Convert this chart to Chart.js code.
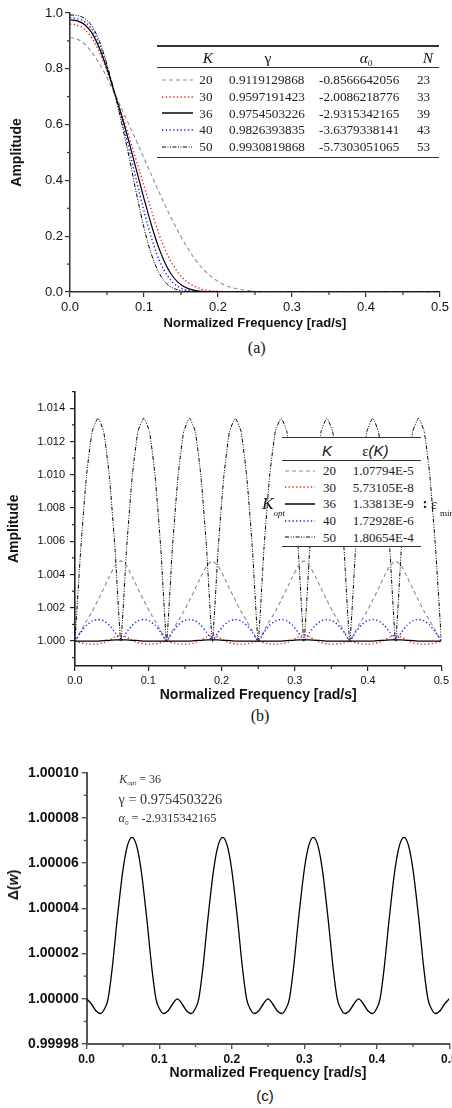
<!DOCTYPE html>
<html><head><meta charset="utf-8">
<script src="https://cdn.jsdelivr.net/npm/chart.js@4.4.1/dist/chart.umd.min.js"></script>
<style>
html,body{margin:0;padding:0;background:#fff;overflow:hidden;}
body{width:452px;height:1108px;position:relative;}
canvas{position:absolute;left:0;display:block;}
.abs{position:absolute;white-space:nowrap;line-height:1;color:#111;}
.rule{position:absolute;background:#333;}
</style></head><body>
<canvas id="ca" width="452" height="331" style="top:0px"></canvas>
<canvas id="cb" width="452" height="324" style="top:380px"></canvas>
<canvas id="cc" width="480" height="342" style="top:740px"></canvas>
<script>
// ---------------- DATA ----------------
// Panel (a): amplitude response
const freqA = [0,0.01,0.02,0.03,0.04,0.05,0.06,0.07,0.08,0.09,0.10,0.11,0.12,0.13,0.14,0.15,0.16,0.17,0.18,0.19,0.20,0.21,0.22,0.23,0.24,0.25,0.26,0.27,0.28,0.29,0.30,0.40,0.50];
const ampK20 = [0.912,0.906,0.888,0.858,0.818,0.768,0.712,0.655,0.598,0.540,0.480,0.420,0.360,0.302,0.248,0.198,0.153,0.114,0.082,0.057,0.038,0.024,0.015,0.009,0.005,0.0027,0.0013,0.0006,0.0002,0.0001,0,0,0];
const ampK30 = [0.960,0.956,0.941,0.908,0.858,0.792,0.716,0.638,0.555,0.468,0.380,0.293,0.210,0.143,0.093,0.057,0.033,0.018,0.009,0.0045,0.002,0.0009,0.0004,0.0001,0,0,0,0,0,0,0,0,0];
const ampK36 = [0.975,0.972,0.958,0.927,0.872,0.800,0.716,0.630,0.535,0.435,0.335,0.240,0.158,0.095,0.052,0.026,0.012,0.005,0.002,0.0008,0.0003,0,0,0,0,0,0,0,0,0,0,0,0];
const ampK40 = [0.983,0.980,0.968,0.940,0.885,0.808,0.716,0.617,0.510,0.397,0.290,0.195,0.118,0.065,0.032,0.014,0.006,0.0023,0.0008,0.0003,0,0,0,0,0,0,0,0,0,0,0,0,0];
const ampK50 = [0.993,0.991,0.980,0.952,0.897,0.815,0.716,0.603,0.482,0.350,0.230,0.135,0.070,0.032,0.013,0.005,0.0017,0.0005,0.0001,0,0,0,0,0,0,0,0,0,0,0,0,0,0];

// Panel (b): passband ripple
const freqB = [0,0.0078,0.0156,0.0234,0.0313,0.0391,0.0469,0.0547,0.0625,0.0703,0.0781,0.0859,0.0938,0.1016,0.1094,0.1172,
0.125,0.1328,0.1406,0.1484,0.1563,0.1641,0.1719,0.1797,0.1875,0.1953,0.2031,0.2109,0.2188,0.2266,0.2344,0.2422,
0.25,0.2578,0.2656,0.2734,0.2813,0.2891,0.2969,0.3047,0.3125,0.3203,0.3281,0.3359,0.3438,0.3516,0.3594,0.3672,
0.375,0.3828,0.3906,0.3984,0.4063,0.4141,0.4219,0.4297,0.4375,0.4453,0.4531,0.4609,0.4688,0.4766,0.4844,0.4922,0.5];
const rippleK20 = [1.00000,1.00060,1.00120,1.00178,1.00245,1.00315,1.00388,1.00452,1.00482,1.00452,1.00388,1.00315,1.00245,1.00178,1.00120,1.00060,
1.00000,1.00060,1.00120,1.00178,1.00245,1.00315,1.00388,1.00452,1.00482,1.00452,1.00388,1.00315,1.00245,1.00178,1.00120,1.00060,
1.00000,1.00060,1.00120,1.00178,1.00245,1.00315,1.00388,1.00452,1.00482,1.00452,1.00388,1.00315,1.00245,1.00178,1.00120,1.00060,
1.00000,1.00060,1.00120,1.00178,1.00245,1.00315,1.00388,1.00452,1.00482,1.00452,1.00388,1.00315,1.00245,1.00178,1.00120,1.00060,1.00000];
const rippleK30 = [1.00000,0.99990,0.99983,0.99981,0.99983,0.99990,1.00005,1.00025,1.00035,1.00025,1.00005,0.99990,0.99983,0.99981,0.99983,0.99990,
1.00000,0.99990,0.99983,0.99981,0.99983,0.99990,1.00005,1.00025,1.00035,1.00025,1.00005,0.99990,0.99983,0.99981,0.99983,0.99990,
1.00000,0.99990,0.99983,0.99981,0.99983,0.99990,1.00005,1.00025,1.00035,1.00025,1.00005,0.99990,0.99983,0.99981,0.99983,0.99990,
1.00000,0.99990,0.99983,0.99981,0.99983,0.99990,1.00005,1.00025,1.00035,1.00025,1.00005,0.99990,0.99983,0.99981,0.99983,0.99990,1.00000];
const rippleK40 = [1.00000,1.00052,1.00095,1.00122,1.00130,1.00122,1.00095,1.00052,1.00000,1.00052,1.00095,1.00122,1.00130,1.00122,1.00095,1.00052,
1.00000,1.00052,1.00095,1.00122,1.00130,1.00122,1.00095,1.00052,1.00000,1.00052,1.00095,1.00122,1.00130,1.00122,1.00095,1.00052,
1.00000,1.00052,1.00095,1.00122,1.00130,1.00122,1.00095,1.00052,1.00000,1.00052,1.00095,1.00122,1.00130,1.00122,1.00095,1.00052,
1.00000,1.00052,1.00095,1.00122,1.00130,1.00122,1.00095,1.00052,1.00000,1.00052,1.00095,1.00122,1.00130,1.00122,1.00095,1.00052,1.00000];
const rippleK50 = [1.0000,1.0055,1.0099,1.0126,1.0134,1.0126,1.0099,1.0055,1.0000,1.0055,1.0099,1.0126,1.0134,1.0126,1.0099,1.0055,
1.0000,1.0055,1.0099,1.0126,1.0134,1.0126,1.0099,1.0055,1.0000,1.0055,1.0099,1.0126,1.0134,1.0126,1.0099,1.0055,
1.0000,1.0055,1.0099,1.0126,1.0134,1.0126,1.0099,1.0055,1.0000,1.0055,1.0099,1.0126,1.0134,1.0126,1.0099,1.0055,
1.0000,1.0055,1.0099,1.0126,1.0134,1.0126,1.0099,1.0055,1.0000,1.0055,1.0099,1.0126,1.0134,1.0126,1.0099,1.0055,1.0000];

// Panel (c) and K=36 ripple of panel (b)
const freqC = [0,0.0065,0.013,0.019,0.0245,0.0295,0.035,0.042,0.05,0.056,0.0625,0.069,0.075,0.083,0.09,0.0955,0.1005,0.106,0.112,0.1185,
0.125,0.1315,0.138,0.144,0.1495,0.1545,0.16,0.167,0.175,0.181,0.1875,0.194,0.2,0.208,0.215,0.2205,0.2255,0.231,0.237,0.2435,
0.25,0.2565,0.263,0.269,0.2745,0.2795,0.285,0.292,0.3,0.306,0.3125,0.319,0.325,0.333,0.34,0.3455,0.3505,0.356,0.362,0.3685,
0.375,0.3815,0.388,0.394,0.3995,0.4045,0.41,0.417,0.425,0.431,0.4375,0.444,0.45,0.458,0.465,0.4705,0.4755,0.481,0.487,0.4935,0.5];
const deltaK36 = [1.0000000,0.9999977,0.9999946,0.9999935,0.9999955,1.0000000,1.0000130,1.0000350,1.0000570,1.0000675,1.0000714,1.0000675,1.0000570,1.0000350,1.0000130,1.0000000,0.9999955,0.9999935,0.9999946,0.9999977,
1.0000000,0.9999977,0.9999946,0.9999935,0.9999955,1.0000000,1.0000130,1.0000350,1.0000570,1.0000675,1.0000714,1.0000675,1.0000570,1.0000350,1.0000130,1.0000000,0.9999955,0.9999935,0.9999946,0.9999977,
1.0000000,0.9999977,0.9999946,0.9999935,0.9999955,1.0000000,1.0000130,1.0000350,1.0000570,1.0000675,1.0000714,1.0000675,1.0000570,1.0000350,1.0000130,1.0000000,0.9999955,0.9999935,0.9999946,0.9999977,
1.0000000,0.9999977,0.9999946,0.9999935,0.9999955,1.0000000,1.0000130,1.0000350,1.0000570,1.0000675,1.0000714,1.0000675,1.0000570,1.0000350,1.0000130,1.0000000,0.9999955,0.9999935,0.9999946,0.9999977,1.0000000];

// Legend tables
const legendK = [20,30,36,40,50];
const gammaText = ['0.9119129868','0.9597191423','0.9754503226','0.9826393835','0.9930819868'];
const alphaText = ['-0.8566642056','-2.0086218776','-2.9315342165','-3.6379338141','-5.7303051065'];
const lengthN = [23,33,39,43,53];
const epsText = ['1.07794E-5','5.73105E-8','1.33813E-9','1.72928E-6','1.80654E-4'];

// Ticks
const xTicks = [0,0.1,0.2,0.3,0.4,0.5];
const xTickLabels = ['0.0','0.1','0.2','0.3','0.4','0.5'];
const xMinor = [0.05,0.15,0.25,0.35,0.45];
const yTicksA = [0,0.2,0.4,0.6,0.8,1.0];
const yTickLabelsA = ['0.0','0.2','0.4','0.6','0.8','1.0'];
const yMinorA = [0.1,0.3,0.5,0.7,0.9];
const yTicksB = [1.000,1.002,1.004,1.006,1.008,1.010,1.012,1.014];
const yTickLabelsB = ['1.000','1.002','1.004','1.006','1.008','1.010','1.012','1.014'];
const yMinorB = [0.999,1.001,1.003,1.005,1.007,1.009,1.011,1.013,1.015];
const yTicksC = [0.99998,1.00000,1.00002,1.00004,1.00006,1.00008,1.00010];
const yTickLabelsC = ['0.99998','1.00000','1.00002','1.00004','1.00006','1.00008','1.00010'];
const yMinorC = [0.99999,1.00001,1.00003,1.00005,1.00007,1.00009];

// ---------------- STYLE ----------------
const SANS = "'Liberation Sans', Arial, sans-serif";
const SERIF = "'Liberation Serif', 'Times New Roman', serif";
Chart.defaults.font.family = SANS;
Chart.defaults.color = '#111';
const sty = {
  20:{color:'#8c8c8c', width:1.1, dash:[4,3]},
  30:{color:'#ff1a1a', width:1.4, dash:[1.3,2.4]},
  36:{color:'#000000', width:1.2, dash:[]},
  40:{color:'#1a1aff', width:1.4, dash:[1.3,2.4]},
  50:{color:'#000000', width:1.0, dash:[4,1.5,1,1.5,1,1.5]}
};

const minorTicks = {
  id:'minorTicks',
  afterDraw(chart, args, o){
    if(!o || !o.x) return;
    const ctx = chart.ctx; ctx.save();
    ctx.strokeStyle = o.color; ctx.lineWidth = o.width;
    const sx = chart.scales.x, sy = chart.scales.y;
    o.x.forEach(v=>{ const p = sx.getPixelForValue(v); ctx.beginPath(); ctx.moveTo(p, sx.top); ctx.lineTo(p, sx.top+o.len); ctx.stroke(); });
    o.y.forEach(v=>{ const p = sy.getPixelForValue(v); ctx.beginPath(); ctx.moveTo(sy.right, p); ctx.lineTo(sy.right-o.len, p); ctx.stroke(); });
    ctx.restore();
  }
};
Chart.register(minorTicks);

function axis(o){
  return {
    type:'linear', min:o.min, max:o.max,
    afterBuildTicks: s => { s.ticks = o.ticks.map(v=>({value:v})); },
    afterFit: s => { if(o.w!=null) s.width = o.w; if(o.h!=null) s.height = o.h; },
    ticks:{autoSkip:false, maxRotation:0, minRotation:0, padding:o.pad, font:o.font, color:'#111', callback:(v,i)=>o.labels[i]},
    grid:{display:true, drawOnChartArea:false, drawTicks:true, tickLength:5, color:o.axisColor, lineWidth:o.tickWidth||1.2},
    border:{display:true, color:o.axisColor, width:o.axisWidth},
    title:{display:!!o.title, text:o.title, font:o.titleFont, padding:o.titlePad, color:'#111'}
  };
}
function ds(xs, ys, st, mode){
  return {data:xs.map((x,i)=>({x:x, y:ys[i]})), borderColor:st.color, borderWidth:st.width, borderDash:st.dash,
    pointRadius:0, fill:false, tension: mode==='monotone'?0:0.15, cubicInterpolationMode: mode||'default', borderCapStyle:'butt'};
}
function base(pad, minor){
  return {responsive:false, animation:false, devicePixelRatio:1, events:[],
    layout:{padding:pad},
    plugins:{legend:{display:false}, tooltip:{enabled:false}, minorTicks:minor}};
}

// ---- Chart (a)
new Chart(document.getElementById('ca'), {
  type:'line',
  data:{datasets:[
    ds(freqA, ampK36, sty[36], 'monotone'),
    ds(freqA, ampK50, sty[50], 'monotone'),
    ds(freqA, ampK40, sty[40], 'monotone'),
    ds(freqA, ampK30, sty[30], 'monotone'),
    ds(freqA, ampK20, sty[20], 'monotone')
  ]},
  options:Object.assign(base({left:0,top:13,right:10,bottom:0},{x:xMinor,y:yMinorA,len:3,color:'#333',width:1.2}),{
    scales:{
      x:axis({min:0,max:0.5,ticks:xTicks,labels:xTickLabels,pad:3,font:{size:13},axisColor:'#333',axisWidth:1.5,h:39,
        title:'Normalized Frequency [rad/s]',titleFont:{size:13,weight:'bold'},titlePad:{top:0,bottom:0}}),
      y:axis({min:0,max:1,ticks:yTicksA,labels:yTickLabelsA,pad:2,font:{size:13},axisColor:'#333',axisWidth:1.5,w:70,
        title:'Amplitude',titleFont:{size:14,weight:'bold'},titlePad:{top:8.3,bottom:0}})
    }})
});

// ---- Chart (b)
new Chart(document.getElementById('cb'), {
  type:'line',
  data:{datasets:[
    ds(freqC, deltaK36, sty[36], 'monotone'),
    ds(freqB, rippleK30, sty[30]),
    ds(freqB, rippleK40, sty[40]),
    ds(freqB, rippleK20, sty[20]),
    ds(freqB, rippleK50, sty[50])
  ]},
  options:Object.assign(base({left:0,top:10.7,right:10,bottom:0},{x:xMinor,y:yMinorB,len:3,color:'#222',width:1.2}),{
    scales:{
      x:axis({min:0,max:0.5,ticks:xTicks,labels:xTickLabels,pad:3,font:{size:11},axisColor:'#222',axisWidth:1.6,h:38,
        title:'Normalized Frequency [rad/s]',titleFont:{size:14,weight:'bold'},titlePad:{top:0,bottom:0}}),
      y:axis({min:0.9985,max:1.015,ticks:yTicksB,labels:yTickLabelsB,pad:5,font:{size:11},axisColor:'#222',axisWidth:1.6,w:75,
        title:'Amplitude',titleFont:{size:14,weight:'bold'},titlePad:{top:5.6,bottom:0}})
    }})
});

// ---- Chart (c)
new Chart(document.getElementById('cc'), {
  type:'line',
  data:{datasets:[ ds(freqC, deltaK36, {color:'#000', width:1.3, dash:[]}, 'monotone') ]},
  options:Object.assign(base({left:0,top:32.7,right:30.7,bottom:0},{x:xMinor,y:yMinorC,len:3,color:'#555',width:1.4}),{
    scales:{
      x:axis({min:0,max:0.5,ticks:xTicks,labels:xTickLabels,pad:3,font:{size:12,weight:'bold'},axisColor:'#555',axisWidth:2,tickWidth:1.4,h:38,
        title:'Normalized Frequency [rad/s]',titleFont:{size:14,weight:'bold'},titlePad:{top:0,bottom:0}}),
      y:axis({min:0.99998,max:1.0001,ticks:yTicksC,labels:yTickLabelsC,pad:3,font:{size:14,weight:'bold'},axisColor:'#555',axisWidth:2,tickWidth:1.4,w:86.7,
        title:'',titleFont:{size:14,weight:'bold'},titlePad:{top:0,bottom:0}})
    }})
});

// ---------------- HTML TEXT / TABLES ----------------
function T(html, x, baseline, size, o){
  o = o || {};
  const d = document.createElement('div');
  d.className = 'abs';
  d.innerHTML = html;
  d.style.fontSize = size + 'px';
  d.style.fontFamily = o.family || SERIF;
  if(o.weight) d.style.fontWeight = o.weight;
  if(o.italic) d.style.fontStyle = 'italic';
  if(o.color) d.style.color = o.color;
  d.style.left = x + 'px';
  d.style.top = (baseline - 0.84*size) + 'px';
  if(o.align==='right') d.style.transform = 'translateX(-100%)';
  if(o.align==='center') d.style.transform = 'translateX(-50%)';
  document.body.appendChild(d);
  return d;
}
function R(x, y, w, h, bg){
  const d = document.createElement('div');
  d.className = 'rule';
  d.style.left = x+'px'; d.style.top = y+'px'; d.style.width = w+'px'; d.style.height = h+'px';
  if(bg) d.style.background = bg;
  document.body.appendChild(d);
  return d;
}
function sample(x, yc, w, st){
  const s = 'http://www.w3.org/2000/svg';
  const svg = document.createElementNS(s,'svg');
  svg.setAttribute('width', w); svg.setAttribute('height', 6);
  svg.style.position = 'absolute'; svg.style.left = x+'px'; svg.style.top = (yc-3)+'px';
  const ln = document.createElementNS(s,'line');
  ln.setAttribute('x1',0); ln.setAttribute('x2',w); ln.setAttribute('y1',3); ln.setAttribute('y2',3);
  ln.setAttribute('stroke', st.solid ? '#444' : st.color);
  ln.setAttribute('stroke-width', st.solid ? 2 : st.width);
  if(st.dash.length) ln.setAttribute('stroke-dasharray', st.dash.join(','));
  svg.appendChild(ln);
  document.body.appendChild(svg);
}

// Table (a)
const rowBaseA = [84.2,100.9,117.6,134.3,151.0];
R(157, 45.3, 281.5, 1.5);
R(157, 66.5, 281.5, 1);
R(157, 156.5, 281.5, 1.5);
T('K', 213, 62.8, 15.5, {align:'right', italic:true});
T('γ', 268, 62.8, 15.5, {align:'center'});
T('<i>α</i><span style="font-size:9px;font-style:italic;position:relative;top:3px">0</span>', 366, 62.8, 15.5, {align:'center'});
T('N', 433, 62.8, 15.5, {align:'right', italic:true});
legendK.forEach((k,i)=>{
  const b = rowBaseA[i];
  const st = Object.assign({}, sty[k], {solid:k===36});
  sample(161.7, b-4.3, 31, st);
  T(String(k), 212.5, b, 13.2, {align:'right', color:'#222'});
  T(gammaText[i], 229, b, 13.2, {color:'#222'});
  T(alphaText[i], 319, b, 13.2, {color:'#222'});
  T(String(lengthN[i]), 417, b, 13.2, {color:'#222'});
});
T('(a)', 256.7, 353.5, 16, {align:'center'});

// Table (b)
const rowBaseB = [475.0,491.7,508.3,525.0,541.7];
R(281.7, 437.3, 139, 110, '#fff');
R(281.7, 436.6, 139, 1.5);
R(281.7, 460.0, 139, 1);
R(281.7, 545.5, 139, 1.5);
T('K', 327, 455.5, 15, {align:'center', italic:true, family:SANS});
T('ε<span style="font-family:' + SANS.replace(/"/g,'') + ';font-style:italic">(K)</span>', 375.3, 455.5, 15, {align:'center'});
legendK.forEach((k,i)=>{
  const b = rowBaseB[i];
  const st = Object.assign({}, sty[k], {solid:k===36});
  sample(285, b-4.3, 30, st);
  T(String(k), 336, b, 13, {align:'right', color:'#222'});
  T(epsText[i], 352.7, b, 13, {color:'#222'});
});
T('K', 262, 510, 17.5, {italic:true});
T('opt', 273.5, 516.5, 9, {italic:true});
T('<b>:</b>', 422.5, 509, 15, {});
T('ε', 431, 510, 15, {});
T('min', 440, 516.5, 9, {});
T('(b)', 260, 721, 16, {align:'center'});

// Panel (c) annotations
T('<i>K</i><span style="font-size:7px;font-style:italic;position:relative;top:2px">opt</span> = 36', 119.3, 783.3, 12, {color:'#333'});
T('γ = 0.9754503226', 118.5, 804, 14.3, {color:'#333'});
T('<i>α</i><span style="font-size:7px;font-style:italic;position:relative;top:3px">0</span> = -2.9315342165', 118.5, 822.3, 12.3, {color:'#333'});
const dw = T('Δ(<i>w</i>)', 12.7, 890, 14, {family:SANS, weight:'bold'});
dw.style.top = '884.7px'; dw.style.transform = 'translate(-50%,-50%) rotate(-90deg)';
T('(c)', 265, 1101, 15, {align:'center', family:SANS});
</script></body></html>
